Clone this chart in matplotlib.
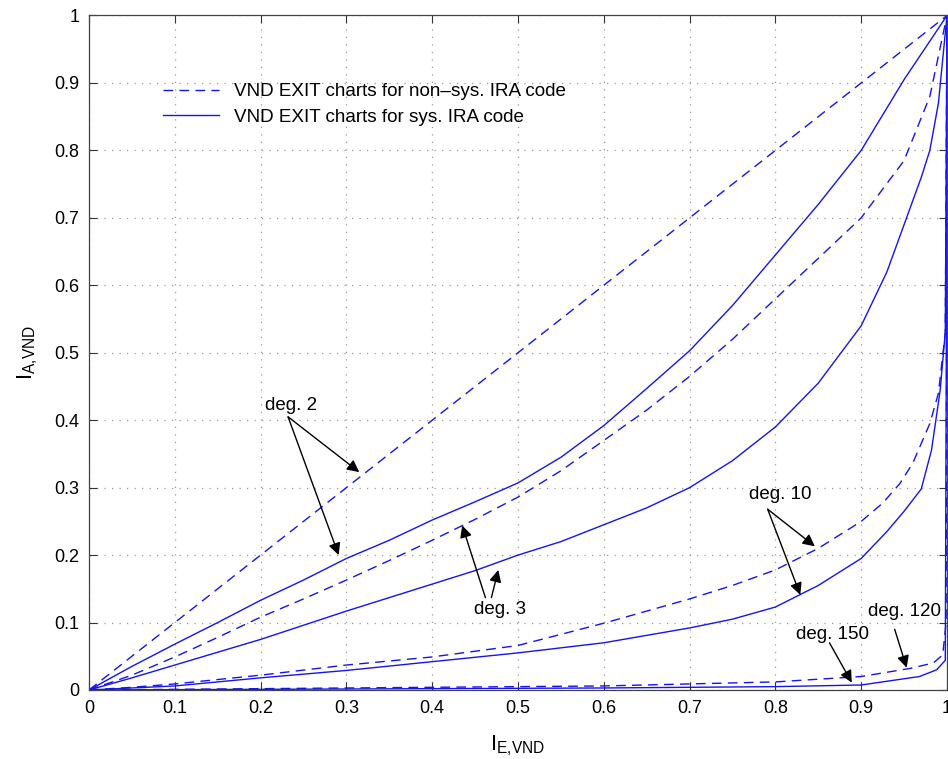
#!/usr/bin/env python3
import matplotlib
matplotlib.use("Agg")
import matplotlib.pyplot as plt

plt.rcParams['font.family'] = ['Liberation Sans', 'DejaVu Sans']
plt.rcParams['mathtext.fontset'] = 'custom'
plt.rcParams['mathtext.rm'] = 'Liberation Sans'

# VND EXIT curves
# deg. 2
x_d2_ns = [0.0, 0.5, 1.0]
y_d2_ns = [0.0, 0.5, 1.0]
x_d2_s = [0, 0.05, 0.1, 0.15, 0.2, 0.25, 0.3, 0.35, 0.4, 0.45, 0.5, 0.55,
          0.6, 0.65, 0.7, 0.75, 0.8, 0.85, 0.9, 0.95, 1.0]
y_d2_s = [0, 0.035, 0.068, 0.1, 0.133, 0.163, 0.195, 0.222, 0.252, 0.279, 0.307, 0.345,
          0.392, 0.447, 0.503, 0.57, 0.645, 0.72, 0.80, 0.905, 1.0]
# deg. 3
x_d3_ns = [0, 0.05, 0.1, 0.15, 0.2, 0.25, 0.3, 0.35, 0.4, 0.45, 0.5, 0.55,
           0.6, 0.65, 0.7, 0.75, 0.8, 0.85, 0.9, 0.95, 0.98, 1.0]
y_d3_ns = [0, 0.022, 0.049, 0.078, 0.108, 0.135, 0.163, 0.192, 0.222, 0.253, 0.286, 0.325,
           0.37, 0.415, 0.465, 0.52, 0.58, 0.64, 0.70, 0.785, 0.88, 1.0]
x_d3_s = [0, 0.05, 0.1, 0.15, 0.2, 0.25, 0.3, 0.35, 0.4, 0.45, 0.5, 0.55, 0.6,
          0.65, 0.7, 0.75, 0.8, 0.85, 0.9, 0.93, 0.95, 0.97, 0.98, 0.99, 1.0]
y_d3_s = [0, 0.018, 0.037, 0.056, 0.075, 0.096, 0.117, 0.137, 0.157, 0.177, 0.2, 0.22, 0.245,
          0.27, 0.3, 0.34, 0.39, 0.455, 0.54, 0.62, 0.69, 0.76, 0.80, 0.87, 1.0]
# deg. 10
x_d10_ns = [0, 0.05, 0.1, 0.2, 0.3, 0.4, 0.5, 0.6, 0.7, 0.75, 0.8, 0.85, 0.9,
            0.925, 0.945, 0.96, 0.98, 0.99, 0.998, 1.0]
y_d10_ns = [0, 0.004, 0.009, 0.022, 0.037, 0.049, 0.066, 0.099, 0.135, 0.155, 0.178, 0.21, 0.25,
            0.277, 0.306, 0.336, 0.395, 0.44, 0.53, 1.0]
x_d10_s = [0, 0.1, 0.2, 0.3, 0.4, 0.5, 0.6, 0.7, 0.75, 0.8, 0.85, 0.9, 0.93,
           0.95, 0.97, 0.982, 0.992, 0.998, 1.0]
y_d10_s = [0, 0.006, 0.018, 0.029, 0.042, 0.055, 0.07, 0.092, 0.105, 0.123, 0.155, 0.195, 0.235,
           0.265, 0.298, 0.356, 0.444, 0.53, 1.0]
# deg. 120 (non-sys) / deg. 150 (sys)
x_d120 = [0, 0.2, 0.4, 0.6, 0.8, 0.9, 0.957, 0.984, 0.995, 0.999, 1.0]
y_d120 = [0, 0.002, 0.004, 0.006, 0.012, 0.02, 0.032, 0.04, 0.052, 0.1, 1.0]
x_d150 = [0, 0.2, 0.4, 0.6, 0.8, 0.9, 0.968, 0.988, 0.998, 0.9995, 1.0]
y_d150 = [0, 0.001, 0.002, 0.003, 0.005, 0.0074, 0.02, 0.03, 0.044, 0.6, 1.0]

legend_labels = ['VND EXIT charts for non\u2013sys. IRA code',
                 'VND EXIT charts for sys. IRA code']

# (text, text pos, arrow tail, arrow heads)
notes = [
    ('deg. 2', (0.235, 0.422), (0.232, 0.405), [(0.315, 0.323), (0.291, 0.200)]),
    ('deg. 3', (0.479, 0.119), None, [(0.435, 0.244), (0.477, 0.178)]),
    ('deg. 10', (0.806, 0.290), (0.791, 0.268), [(0.846, 0.213), (0.829, 0.141)]),
    ('deg. 120', (0.950, 0.117), (0.939, 0.090), [(0.953, 0.033)]),
    ('deg. 150', (0.866, 0.082), (0.863, 0.070), [(0.889, 0.011)]),
]
deg3_tails = [(0.462, 0.137), (0.469, 0.137)]

blue = '#1414ee'
dash = (0, (7, 4.5))

fig = plt.figure(figsize=(9.48, 7.59), dpi=100)
ax = fig.add_axes([89 / 948, 69 / 759, 858 / 948, 674.5 / 759])

l1, = ax.plot(x_d2_ns, y_d2_ns, color=blue, lw=1.0, linestyle=dash)
l2, = ax.plot(x_d2_s, y_d2_s, color=blue, lw=1.0)
ax.plot(x_d3_ns, y_d3_ns, color=blue, lw=1.0, linestyle=dash)
ax.plot(x_d3_s, y_d3_s, color=blue, lw=1.0)
ax.plot(x_d10_ns, y_d10_ns, color=blue, lw=1.0, linestyle=dash)
ax.plot(x_d10_s, y_d10_s, color=blue, lw=1.0)
ax.plot(x_d120, y_d120, color=blue, lw=1.0, linestyle=dash)
ax.plot(x_d150, y_d150, color=blue, lw=1.0)

ax.set_xlim(0, 1)
ax.set_ylim(0, 1)
ticks = [i / 10 for i in range(11)]
tick_labels = ['0', '0.1', '0.2', '0.3', '0.4', '0.5', '0.6', '0.7', '0.8', '0.9', '1']
ax.set_xticks(ticks)
ax.set_xticklabels(tick_labels)
ax.set_yticks(ticks)
ax.set_yticklabels(tick_labels)
ax.tick_params(direction='in', top=True, right=True, length=6, width=0.8,
               labelsize=13, pad=7, colors='#333333', labelcolor='black')
for s in ax.spines.values():
    s.set_color('#444444')
    s.set_linewidth(0.9)
ax.grid(True, linestyle=(0, (1, 5)), color='#999999', linewidth=0.9)

ax.set_xlabel(r'$\mathregular{I_{E{,}VND}}$', fontsize=16, labelpad=12)
ax.set_ylabel(r'$\mathregular{I_{A{,}VND}}$', fontsize=16, labelpad=10)

ax.legend([l1, l2], legend_labels, loc='upper left', bbox_to_anchor=(0.066, 0.925),
          frameon=False, fontsize=13.6, handlelength=3.0, handletextpad=0.8,
          labelspacing=0.45)

arrow = dict(arrowstyle='-|>', color='black', lw=1.0, mutation_scale=18,
             shrinkA=0, shrinkB=0)
for text, tpos, tail, heads in notes:
    ax.text(tpos[0], tpos[1], text, fontsize=13.5, ha='center', va='center')
    for i, h in enumerate(heads):
        t = tail if tail is not None else deg3_tails[i]
        ax.annotate('', xy=h, xytext=t, arrowprops=arrow)

fig.savefig('out.png', dpi=100)
